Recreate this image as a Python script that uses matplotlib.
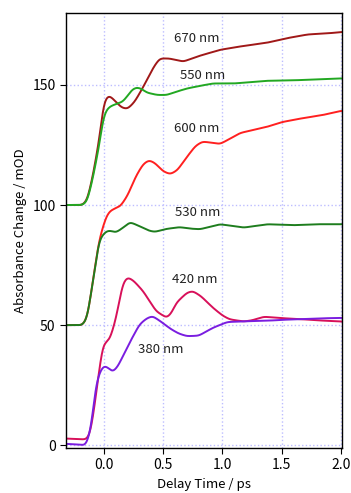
import numpy as np
import matplotlib.pyplot as plt

plt.rcParams['font.family'] = ['Noto Sans CJK JP', 'DejaVu Sans']

# traces: delay (ps), absorbance change (mOD)
t670 = [-0.32, -0.18, -0.14, -0.09, -0.03, -0.01, 0.02, 0.05, 0.1, 0.15, 0.2, 0.26, 0.33, 0.42, 0.47, 0.55, 0.67, 0.8, 0.98, 1.15, 1.38, 1.55, 1.72, 1.9, 2.0]
a670 = [100, 100, 102, 113, 130, 141, 145, 145.5, 143, 140.5, 140, 143, 149, 157.5, 161, 161, 159.7, 162, 164.6, 166, 167.6, 169.5, 171, 171.5, 172]

t550 = [-0.32, -0.18, -0.14, -0.09, -0.03, -0.01, 0.02, 0.05, 0.1, 0.16, 0.2, 0.24, 0.28, 0.32, 0.36, 0.45, 0.53, 0.6, 0.7, 0.8, 0.92, 1.1, 1.37, 1.6, 1.8, 2.0]
a550 = [100, 100, 101.5, 112, 127.4, 136, 139.6, 141, 142, 143, 145.5, 148.2, 149, 148.3, 146.8, 145.8, 145.8, 147, 148.5, 149.5, 150.6, 150.6, 151.7, 151.9, 152.3, 152.7]

t600 = [-0.32, -0.18, -0.14, -0.095, -0.04, 0.02, 0.05, 0.09, 0.14, 0.2, 0.27, 0.33, 0.38, 0.43, 0.5, 0.56, 0.62, 0.7, 0.77, 0.83, 0.9, 0.98, 1.06, 1.15, 1.38, 1.5, 1.66, 1.85, 2.0]
a600 = [50, 50, 53, 67.7, 85.7, 95.4, 97.5, 98.5, 99.5, 104, 112, 117, 118.7, 117.5, 114, 112.8, 114.5, 120, 124.5, 126.4, 126, 125.4, 127.5, 130, 132.6, 134.5, 136, 137.5, 139.2]

t530 = [-0.32, -0.18, -0.14, -0.095, -0.04, 0.02, 0.06, 0.1, 0.16, 0.22, 0.3, 0.38, 0.43, 0.52, 0.64, 0.72, 0.81, 0.9, 0.98, 1.08, 1.18, 1.38, 1.6, 1.8, 2.0]
a530 = [50, 50, 53, 67.7, 85.7, 89.2, 89.3, 88.5, 90.5, 92.9, 91.2, 89.3, 88.8, 90, 90.8, 90.2, 89.9, 91, 92, 91.3, 90.6, 92, 91.6, 92, 92]

t420 = [-0.32, -0.2, -0.15, -0.12, -0.095, -0.05, -0.01, 0.05, 0.1, 0.16, 0.2, 0.25, 0.33, 0.44, 0.53, 0.57, 0.61, 0.7, 0.75, 0.82, 0.92, 1.0, 1.06, 1.18, 1.25, 1.35, 1.5, 1.66, 1.8, 2.0]
a420 = [2.8, 2.5, 2.4, 4, 10.7, 27.4, 42, 44, 52.4, 67.7, 70, 68.5, 64.2, 55.8, 53, 55, 59.3, 63.5, 64.2, 62, 57.2, 54, 52.4, 51.5, 52, 53.5, 52.9, 52.5, 52, 51.5]

t380 = [-0.32, -0.2, -0.15, -0.11, -0.066, -0.02, 0.01, 0.04, 0.075, 0.12, 0.16, 0.22, 0.3, 0.36, 0.41, 0.48, 0.56, 0.63, 0.7, 0.8, 0.92, 1.04, 1.2, 1.37, 1.5, 1.66, 1.8, 2.0]
a380 = [0.6, 0.2, 0, 6.5, 26, 32.2, 33.2, 32, 30.4, 33, 37.1, 43, 50.3, 52.8, 53.8, 51.5, 48.5, 46.5, 45.4, 45.6, 48.9, 51.3, 51.6, 51.8, 52.2, 52.5, 52.8, 53]

traces = [
    (t670, a670, '#a01818', '670 nm', 0.78, 169.5),
    (t550, a550, '#22a822', '550 nm', 0.83, 153.7),
    (t600, a600, '#ff2020', '600 nm', 0.78, 132),
    (t530, a530, '#1e7d1e', '530 nm', 0.79, 97),
    (t420, a420, '#d8105a', '420 nm', 0.77, 69),
    (t380, a380, '#7a1de0', '380 nm', 0.48, 40),
]


def smooth(t, a, n=800, sig=0.018):
    # linear resample then gaussian blur to round the corners
    tt = np.linspace(min(t), max(t), n)
    yy = np.interp(tt, t, a)
    dt = tt[1] - tt[0]
    k = np.arange(-int(4 * sig / dt), int(4 * sig / dt) + 1) * dt
    w = np.exp(-0.5 * (k / sig) ** 2)
    w /= w.sum()
    pad = len(k) // 2
    yp = np.concatenate([np.full(pad, yy[0]), yy, np.full(pad, yy[-1])])
    return tt, np.convolve(yp, w, mode='valid')


fig = plt.figure(figsize=(3.51, 4.93), dpi=100)
ax = fig.add_axes([0.188, 0.092, 0.787, 0.882])

for t, a, c, lab, lx, ly in traces:
    tt, yy = smooth(t, a)
    ax.plot(tt, yy, color=c, lw=1.4)
    ax.text(lx, ly, lab, fontsize=9.5, ha='center', va='center', color='#222222')

ax.set_xlim(-0.32, 2.01)
ax.set_ylim(-1, 180)
ax.set_xticks([0, 0.5, 1.0, 1.5, 2.0])
ax.set_xticklabels(['0.0', '0.5', '1.0', '1.5', '2.0'])
ax.set_yticks([0, 50, 100, 150])
ax.grid(True, color='#bdbdff', ls=':', lw=1.0)
ax.tick_params(labelsize=10, direction='out', length=4, top=False, right=False)
for s in ax.spines.values():
    s.set_linewidth(1.0)
ax.set_xlabel('Delay Time / ps', fontsize=9.5)
ax.set_ylabel('Absorbance Change / mOD', fontsize=9.5)

fig.savefig('out.png', dpi=100)
